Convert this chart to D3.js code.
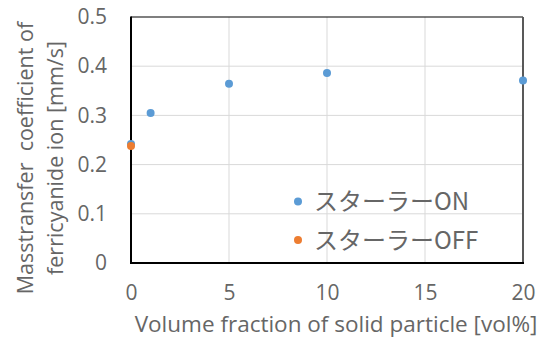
<!DOCTYPE html>
<html>
<head>
<meta charset="utf-8">
<script src="https://cdn.jsdelivr.net/npm/d3@7"></script>
<style>
  body { margin: 0; background: #fff; }
  svg { display: block; }
</style>
</head>
<body>
<div id="chart"></div>
<script>
// data
const seriesNames = ['スターラーON', 'スターラーOFF'];
const seriesColors = ['#5b9bd5', '#ed7d31'];
const onX = [0, 1, 5, 10, 20];
const onY = [0.242, 0.305, 0.3645, 0.386, 0.371];
const offX = [0];
const offY = [0.238];
const xTicks = [0, 5, 10, 15, 20];
const yTicks = [0, 0.1, 0.2, 0.3, 0.4, 0.5];

const width = 544, height = 344;
const margin = {top: 17, right: 21, bottom: 81, left: 131};
const innerW = width - margin.left - margin.right;
const innerH = height - margin.top - margin.bottom;
const textColor = '#666';
const font = '"Open Sans", sans-serif';

const svg = d3.select('#chart').append('svg')
  .attr('width', width)
  .attr('height', height);

const g = svg.append('g')
  .attr('transform', `translate(${margin.left},${margin.top})`);

const x = d3.scaleLinear().domain([0, 20]).range([0, innerW]);
const y = d3.scaleLinear().domain([0, 0.5]).range([innerH, 0]);

// grid
g.selectAll('.hgrid')
  .data(yTicks.slice(1, -1))
  .enter().append('line')
  .attr('x1', 0).attr('x2', innerW)
  .attr('y1', d => y(d)).attr('y2', d => y(d))
  .attr('stroke', '#d9d9d9').attr('stroke-width', 1);

g.selectAll('.vgrid')
  .data(xTicks.slice(1, -1))
  .enter().append('line')
  .attr('x1', d => x(d)).attr('x2', d => x(d))
  .attr('y1', 0).attr('y2', innerH)
  .attr('stroke', '#d9d9d9').attr('stroke-width', 1);

// plot border
g.append('line').attr('x1', 0).attr('x2', innerW).attr('y1', 0).attr('y2', 0)
  .attr('stroke', '#000').attr('stroke-width', 1.2);
g.append('line').attr('x1', innerW).attr('x2', innerW).attr('y1', 0).attr('y2', innerH)
  .attr('stroke', '#595959').attr('stroke-width', 2);
g.append('line').attr('x1', 0).attr('x2', 0).attr('y1', -0.5).attr('y2', innerH + 1)
  .attr('stroke', '#000').attr('stroke-width', 2);
g.append('line').attr('x1', -1).attr('x2', innerW + 1).attr('y1', innerH).attr('y2', innerH)
  .attr('stroke', '#000').attr('stroke-width', 2);

// axes (labels only)
const yAxis = g.append('g')
  .call(d3.axisLeft(y).tickValues(yTicks).tickSize(0).tickPadding(24)
    .tickFormat(d => d === 0 ? '0' : d3.format('.1f')(d)));
const xAxis = g.append('g')
  .attr('transform', `translate(0,${innerH})`)
  .call(d3.axisBottom(x).tickValues(xTicks).tickSize(0).tickPadding(22));

[xAxis, yAxis].forEach(a => {
  a.select('.domain').remove();
  a.selectAll('text')
    .attr('fill', textColor)
    .style('font-family', font)
    .style('font-size', '21px');
});

// points
const onData = onX.map((v, i) => ({x: v, y: onY[i]}));
const offData = offX.map((v, i) => ({x: v, y: offY[i]}));

g.selectAll('.on')
  .data(onData)
  .enter().append('circle')
  .attr('cx', d => x(d.x)).attr('cy', d => y(d.y))
  .attr('r', 4)
  .attr('fill', seriesColors[0]);

g.selectAll('.off')
  .data(offData)
  .enter().append('circle')
  .attr('cx', d => x(d.x)).attr('cy', d => y(d.y))
  .attr('r', 4)
  .attr('fill', seriesColors[1]);

// legend
const legend = svg.append('g').attr('transform', 'translate(298,201.5)');
seriesNames.forEach((name, i) => {
  const row = legend.append('g').attr('transform', `translate(0,${i * 38.5})`);
  row.append('circle').attr('r', 4).attr('fill', seriesColors[i]);
  row.append('text')
    .attr('x', 16).attr('dy', '0.36em')
    .attr('fill', textColor)
    .style('font-family', '"Noto Sans CJK JP", sans-serif')
    .style('font-size', '24px')
    .text(name);
});

// axis titles
svg.append('text')
  .attr('x', 336).attr('y', 332)
  .attr('text-anchor', 'middle')
  .attr('fill', textColor)
  .style('font-family', font)
  .style('font-size', '22.5px')
  .text('Volume fraction of solid particle [vol%]');

const yTitle = svg.append('text')
  .attr('transform', 'translate(33,158) rotate(-90)')
  .attr('text-anchor', 'middle')
  .attr('fill', textColor)
  .style('font-family', font)
  .style('font-size', '21.5px');
yTitle.append('tspan').attr('x', 0).attr('y', 0).attr('xml:space', 'preserve').text('Masstransfer  coefficient of');
yTitle.append('tspan').attr('x', 0).attr('y', 30).text('ferricyanide ion [mm/s]');
</script>
</body>
</html>
